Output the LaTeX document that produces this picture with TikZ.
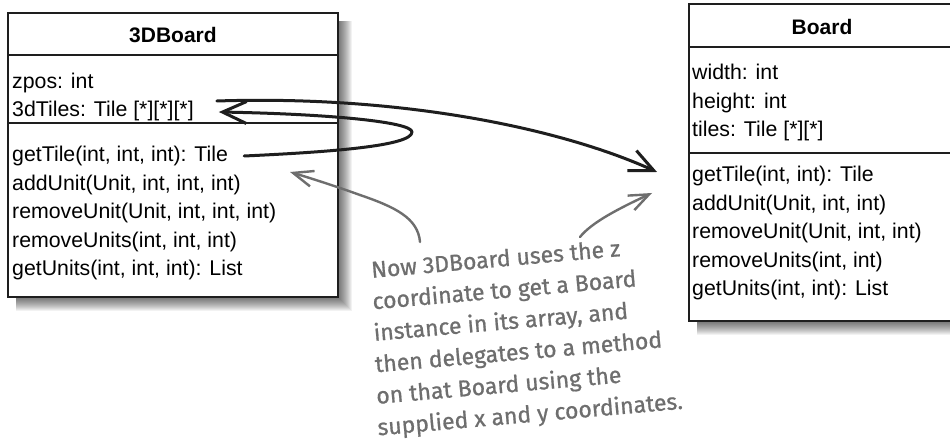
\documentclass[tikz,border=0pt]{standalone}
\usepackage{fontspec}
\setmainfont{Liberation Sans}
\newfontfamily\notefont[FakeBold=0.8]{Fira Sans}
\usetikzlibrary{arrows.meta}
\definecolor{notegray}{HTML}{6E6E6E}
\definecolor{boxline}{HTML}{1E1E1E}
\newcommand\dropshade[4]{%
  \foreach \i in {1,...,14}{\fill[black,opacity=0.05] (#1+8,#2+8) rectangle (#3+\i,#4+\i);}}
\begin{document}
\begin{tikzpicture}[x=1pt,y=-1pt,
  mem/.style={anchor=base west, inner sep=0pt, font=\fontsize{21.3}{25}\selectfont},
  ttl/.style={anchor=base, inner sep=0pt, font=\fontsize{21}{25}\selectfont\bfseries},
  note/.style={anchor=base west, inner sep=0pt, rotate=5, align=left, text=notegray, font=\notefont\fontsize{23}{31.5}\selectfont},
  blk/.style={line width=3pt, line cap=round, line join=round, draw=boxline, -{Straight Barb[length=24pt,width=22pt]}},
  gry/.style={draw=notegray, line width=2.4pt, line cap=round, line join=round, -{Straight Barb[length=20pt,width=16pt]}},
  outer/.style={line width=2.3pt, draw=boxline, fill=white},
  sepline/.style={line width=1.4pt, draw=boxline}]
\useasboundingbox (0,0) rectangle (950,443);
\fill[white] (0,0) rectangle (950,443);
% shadows
\dropshade{8}{13}{338}{297}
\dropshade{689}{4}{956}{321}
% left class box
\draw[outer] (8,13) rectangle (338,297);
\draw[sepline] (8,55) -- (338,55);
\draw[sepline] (8,123) -- (338,123);
% right class box
\draw[outer] (689,4) rectangle (956,321);
\draw[sepline] (689,47) -- (956,47);
\draw[sepline] (689,153) -- (956,153);
% left texts
\node[ttl] (t3) at (173,43) {3DBoard};
\node[mem] (zp3) at (12,88.5) {zpos: int};
\node[mem] (tl3) at (12,117) {3dTiles: Tile [*][*][*]};
\node[mem] (gt3) at (12,162) {getTile(int, int, int): Tile};
\node[mem] (au3) at (12,190.5) {addUnit(Unit, int, int, int)};
\node[mem] (ru3) at (12,219) {removeUnit(Unit, int, int, int)};
\node[mem] (rus3) at (12,247.5) {removeUnits(int, int, int)};
\node[mem] (gu3) at (12,276) {getUnits(int, int, int): List};
% right texts
\node[ttl] (tb) at (822,35) {Board};
\node[mem] (wb) at (692,80) {width: int};
\node[mem] (hb) at (692,108.5) {height: int};
\node[mem] (tlb) at (692,137) {tiles: Tile [*][*]};
\node[mem] (gtb) at (692,182) {getTile(int, int): Tile};
\node[mem] (aub) at (692,210.5) {addUnit(Unit, int, int)};
\node[mem] (rub) at (692,239) {removeUnit(Unit, int, int)};
\node[mem] (rusb) at (692,267.5) {removeUnits(int, int)};
\node[mem] (gub) at (692,296) {getUnits(int, int): List};
% note (anchor = baseline of its last line)
\node[note] (nt) at (385.5,434.8) {Now 3DBoard uses the z\\
\hspace*{-1.5pt}coordinate to get a Board\\
\hspace*{-3pt}instance in its array, and\\
\hspace*{-4.5pt}then delegates to a method\\
\hspace*{-6pt}on that Board using the\\
\hspace*{-7.5pt}supplied x and y coordinates.};
% black arrows
\draw[blk] ([shift={(16,-6)}]gt3.base east) .. controls (330,152) and (412,146) .. (412,132)
  .. controls (412,122) and (330,114) .. ([shift={(25,-5)}]tl3.base east);
\draw[blk] ([shift={(23,-16)}]tl3.base east) .. controls (400,95) and (560,128) .. ([shift={(-35,-10)}]gtb.base west);
% gray arrows
\coordinate (g1s) at (420,242);
\coordinate (g1e) at (290,172);
\coordinate (g2s) at (580,237);
\coordinate (g2e) at (652,193);
\draw[gry] (g1s) .. controls (418,218) and (395,207) .. (360,195) .. controls (335,186) and (310,178) .. (g1e);
\draw[gry] (g2s) .. controls (592,222) and (620,208) .. (g2e);
\end{tikzpicture}
\end{document}
